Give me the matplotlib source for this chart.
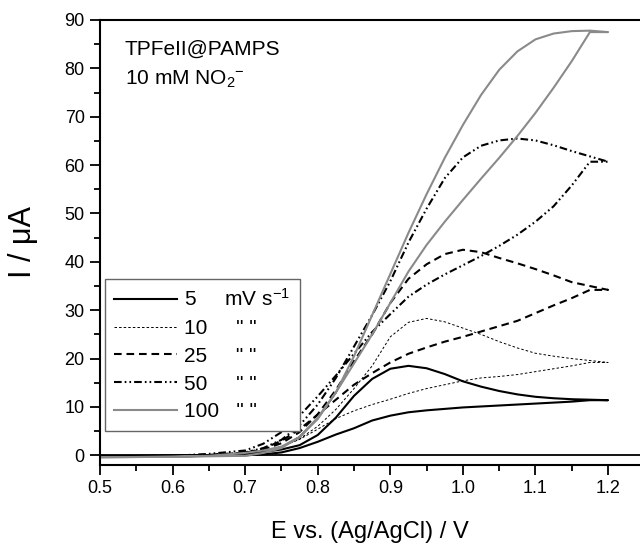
import matplotlib
matplotlib.use("Agg")
import matplotlib.pyplot as plt
from matplotlib.ticker import MultipleLocator

plt.rcParams["font.family"] = ["Liberation Sans", "DejaVu Sans"]
plt.rcParams["mathtext.fontset"] = "custom"
plt.rcParams["mathtext.rm"] = "Liberation Sans"
plt.rcParams["mathtext.it"] = "Liberation Sans:italic"
plt.rcParams["lines.scale_dashes"] = False

# potential grid (V) used for the read-off points
E_fwd = [0.50, 0.60, 0.65, 0.70, 0.725, 0.75, 0.775, 0.80, 0.825, 0.85, 0.875,
         0.90, 0.925, 0.95, 0.975, 1.00, 1.025, 1.05, 1.075, 1.10, 1.125,
         1.15, 1.175, 1.20]
E_rev = E_fwd[::-1]

# current (uA), forward scan then reverse scan, per scan rate
i5_fwd = [-0.2, -0.1, 0.0, 0.3, 0.7, 1.2, 2.1, 4.2, 7.8, 12.3, 15.8,
          17.9, 18.5, 18.0, 16.8, 15.3, 14.2, 13.3, 12.6, 12.1, 11.8,
          11.6, 11.5, 11.4]
i5_rev = [11.4, 11.1, 10.9, 10.7, 10.5, 10.3, 10.1, 9.9, 9.6, 9.3, 8.9,
          8.2, 7.2, 5.6, 4.3, 2.8, 1.5, 0.6, 0.2, 0.0, -0.1, -0.1, -0.2]

i10_fwd = [-0.2, -0.1, 0.0, 0.4, 0.9, 1.8, 3.4, 6.0, 9.5, 13.8, 18.5,
           24.5, 27.5, 28.3, 27.6, 26.3, 25.0, 23.5, 22.2, 21.1, 20.5,
           20.0, 19.6, 19.2]
i10_rev = [19.2, 18.5, 17.9, 17.3, 16.7, 16.3, 16.0, 15.4, 14.6, 13.8,
           12.8, 11.6, 10.5, 9.2, 7.6, 5.4, 3.3, 1.8, 0.8, 0.3, 0.1, -0.1,
           -0.2]

i25_fwd = [-0.2, -0.1, 0.0, 0.5, 1.2, 2.5, 4.8, 8.5, 13.5, 19.5, 25.0,
           31.5, 36.5, 39.5, 41.6, 42.5, 42.0, 40.8, 39.7, 38.5, 37.2,
           35.8, 35.0, 34.2]
i25_rev = [34.2, 32.5, 31.0, 29.4, 27.8, 26.7, 25.6, 24.5, 23.5, 22.3,
           21.0, 19.2, 17.0, 14.6, 11.5, 8.4, 5.4, 3.0, 1.4, 0.5, 0.1,
           -0.1, -0.2]

i50_fwd = [-0.2, -0.1, 0.0, 0.6, 1.5, 3.2, 6.2, 10.5, 16.0, 22.5, 29.0,
           36.0, 44.0, 51.0, 57.3, 61.6, 64.0, 65.1, 65.5, 65.1, 64.1,
           62.9, 61.8, 60.7]
i50_rev = [60.7, 55.8, 51.5, 48.3, 45.6, 43.3, 41.2, 39.3, 37.4, 35.3,
           32.8, 29.2, 25.5, 21.0, 16.5, 12.2, 8.2, 4.8, 2.4, 1.0, 0.3,
           -0.1, -0.2]

i100_fwd = [-0.4, -0.3, -0.1, 0.5, 1.0, 1.8, 3.8, 7.5, 13.0, 20.5, 29.0,
            37.5, 46.0, 54.0, 61.5, 68.3, 74.5, 79.7, 83.5, 86.0, 87.2,
            87.7, 87.8, 87.5]
i100_rev = [87.5, 81.5, 76.0, 70.8, 66.0, 61.5, 57.2, 52.8, 48.3, 43.5,
            38.0, 31.5, 25.0, 19.0, 13.0, 7.8, 3.8, 1.5, 0.5, -0.1, -0.2,
            -0.3, -0.4]

labels = ["5     mV s$^{-1}$", "10     \" \"", "25     \" \"",
          "50     \" \"", "100   \" \""]

fig = plt.figure(figsize=(6.4, 5.44), dpi=100)
ax = fig.add_axes([100 / 640, 1 - 465 / 544, 540 / 640, 445 / 544])

ax.axhline(0, color="black", lw=1.3, zorder=1)

styles = [
    dict(color="black", lw=1.5, ls="-"),
    dict(color="black", lw=0.7, dashes=(1.8, 1.5)),
    dict(color="black", lw=1.5, dashes=(5.5, 3.5)),
    dict(color="black", lw=1.5, dashes=(5.5, 2.2, 1.2, 2.2, 1.2, 2.2)),
    dict(color="#8a8a8a", lw=1.5, ls="-"),
]
fwd = [i5_fwd, i10_fwd, i25_fwd, i50_fwd, i100_fwd]
rev = [i5_rev, i10_rev, i25_rev, i50_rev, i100_rev]
for f, r, lab, st in zip(fwd, rev, labels, styles):
    ax.plot(E_fwd + E_rev[1:], f + r, label=lab, **st)

ax.set_xlim(0.5, 1.244)
ax.set_ylim(-2, 90)
ax.xaxis.set_major_locator(MultipleLocator(0.1))
ax.xaxis.set_minor_locator(MultipleLocator(0.05))
ax.yaxis.set_major_locator(MultipleLocator(10))
ax.yaxis.set_minor_locator(MultipleLocator(5))
ax.xaxis.set_major_formatter(plt.FuncFormatter(lambda v, p: f"{v:.1f}"))
ax.tick_params(which="major", direction="out", length=7, width=1.3,
               labelsize=13, pad=4)
ax.tick_params(which="minor", direction="out", length=4.5, width=1.3)
for s in ["left", "bottom", "top"]:
    ax.spines[s].set_linewidth(1.5)
ax.spines["right"].set_visible(False)

ax.set_xlabel("E vs. (Ag/AgCl) / V", fontsize=17, labelpad=17)
ax.set_ylabel("I / \u03bcA", fontsize=22, labelpad=19)

ax.text(0.046, 0.955, "TPFeII@PAMPS", transform=ax.transAxes, fontsize=15,
        va="top", ha="left")
ax.text(0.046, 0.89, "10 mM NO$_2$$^{-}$", transform=ax.transAxes, fontsize=15,
        va="top", ha="left")

leg = ax.legend(loc="upper left", bbox_to_anchor=(0.009, 0.418),
                borderaxespad=0, fontsize=15, frameon=True, fancybox=False,
                framealpha=1, handlelength=3.0, handletextpad=0.35,
                labelspacing=0.42, borderpad=0.45)
leg.get_frame().set_edgecolor("#666666")
leg.get_frame().set_linewidth(1.0)

fig.savefig("out.png", dpi=100)
